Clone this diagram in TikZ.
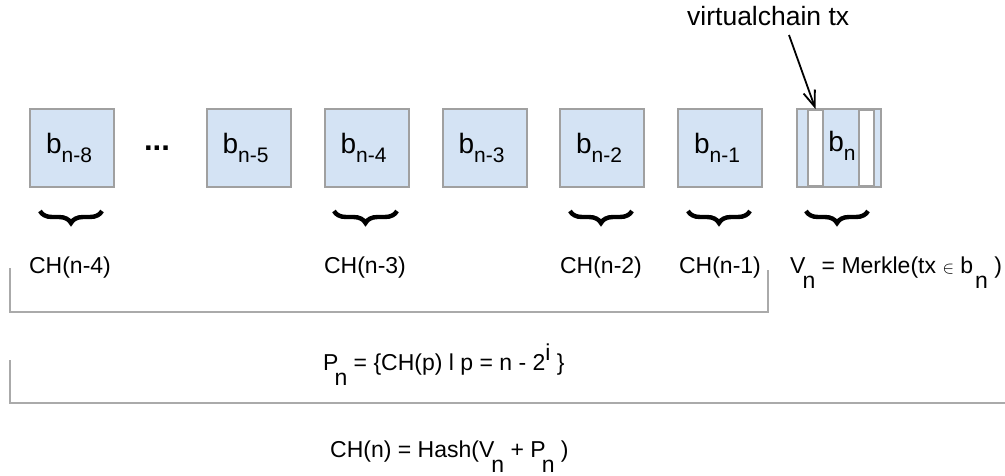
\documentclass[tikz,border=0pt]{standalone}
\usepackage{fontspec}
\setmainfont{Liberation Sans}
\usetikzlibrary{arrows.meta,decorations.pathreplacing,calc}
\definecolor{boxfill}{RGB}{212,227,244}
\definecolor{boxline}{RGB}{160,160,160}
\definecolor{brkline}{RGB}{170,170,170}
\newcommand\lsub[1]{\raisebox{-15pt}{#1}}
\newcommand\hsup[1]{\raisebox{10pt}{#1}}
\newcommand\bsub[1]{\raisebox{-9pt}{\fontsize{21}{21}\selectfont #1}}
\begin{document}
\begin{tikzpicture}[x=1pt,y=-1pt,
 blk/.style={draw=boxline, line width=2pt, fill=boxfill, minimum width=84pt, minimum height=78pt, inner sep=0pt, font=\fontsize{28}{28}\selectfont},
 strip/.style={draw=boxline, line width=2pt, fill=white, minimum width=15pt, minimum height=76pt, inner sep=0pt},
 frame/.style={draw=boxline, line width=2pt, minimum width=84pt, minimum height=78pt, inner sep=0pt},
 lbl/.style={font=\fontsize{23}{23}\selectfont, inner sep=0pt, anchor=base},
 brc/.style={decorate, decoration={brace, mirror, amplitude=12pt}, line width=4.4pt},
 brk/.style={draw=brkline, line width=1.6pt},
 ptr/.style={-{Straight Barb[length=16pt,width=12pt]}, line width=1.8pt}]
\fill[white] (0,0) rectangle (1005,475);
\useasboundingbox (0,0) rectangle (1005,475);

% blocks
\node[blk] (b8) at (72,148) {b\bsub{n-8}\kern6pt};
\node[blk] (b5) at (248.5,148) {b\bsub{n-5}\kern6pt};
\node[blk] (b4) at (366.5,148) {b\bsub{n-4}\kern6pt};
\node[blk] (b3) at (484.5,148) {b\bsub{n-3}\kern6pt};
\node[blk] (b2) at (602,148) {b\bsub{n-2}\kern6pt};
\node[blk] (b1) at (720,148) {b\bsub{n-1}\kern6pt};
\node[blk, draw=none] (bn) at (838.5,148) {};
\node[strip] (s1) at (815.5,148) {};
\node[strip] (s2) at (866.5,148) {};
\node[frame] (bnframe) at (bn.center) {};
\node[font=\fontsize{28}{28}\selectfont, inner sep=0pt] (bnl) at (842,146) {b\bsub{n}};
\node[font=\fontsize{31}{31}\selectfont\bfseries, anchor=base, inner sep=0pt] (dots) at (157,150) {...};

% braces
\draw[brc] (40,211) -- (102,211);
\draw[brc] (334,211) -- (397,211);
\draw[brc] (570,211) -- (632,211);
\draw[brc] (688,211) -- (750,211);
\draw[brc] (806,211) -- (868,211);

% labels
\node[lbl] (ch4) at (70,273) {CH(n-4)};
\node[lbl] (ch3) at (365,273) {CH(n-3)};
\node[lbl] (ch2) at (601,273) {CH(n-2)};
\node[lbl] (ch1) at (720,273) {CH(n-1)};
\node[lbl, anchor=base west] (vn) at (790,273) {V\kern-3pt\lsub{n} = Merkle(tx {\fontsize{17}{17}\selectfont$\in$} b\kern2pt\lsub{n} )};

% brackets
\draw[brk] (10,268) -- (10,312) -- (768,312) -- (768,270);
\draw[brk] (10,360) -- (10,403) -- (1005,403);

\node[lbl, anchor=base west] (pn) at (323,370) {P\kern-4pt\lsub{n} = \{CH(p) l p = n - 2\hsup{i} \}};
\node[lbl, anchor=base west] (chn) at (330,457) {CH(n) = Hash(V\kern-3pt\lsub{n} + P\kern-4pt\lsub{n} )};

% pointer
\node[font=\fontsize{26.5}{26.5}\selectfont, anchor=base west, inner sep=0pt] (vtx) at (687,25) {virtualchain tx};
\coordinate (a1) at (789,35);
\draw[ptr] (a1) -- (s1.north);
\end{tikzpicture}
\end{document}
